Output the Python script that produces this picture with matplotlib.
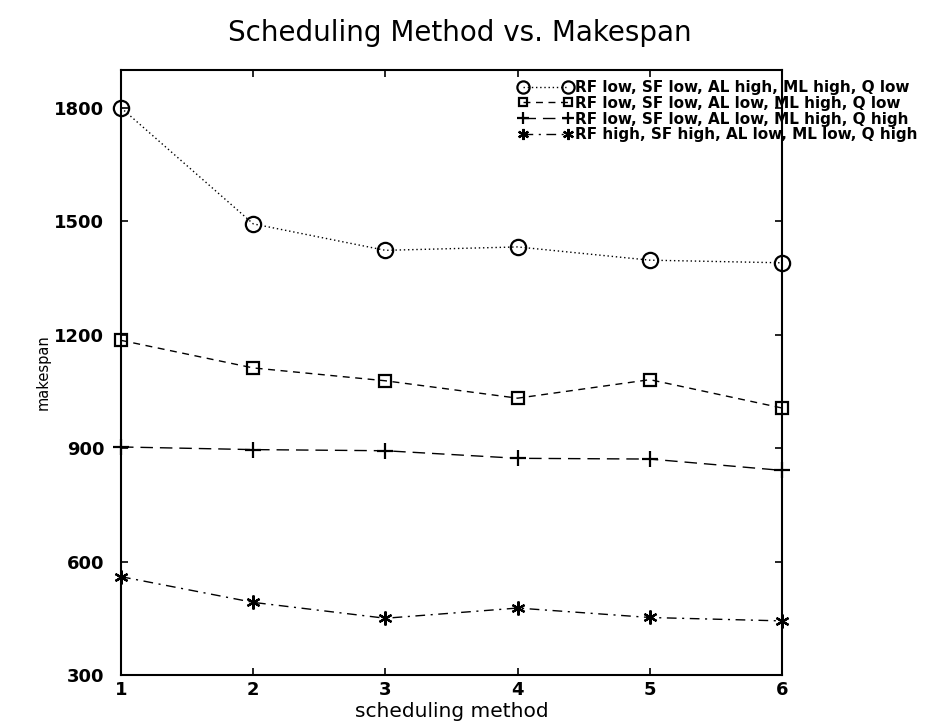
import matplotlib
matplotlib.use("Agg")
import matplotlib.pyplot as plt

plt.rcParams['font.family'] = ['DejaVu Sans']

# scheduling methods on the x axis
methods = [1, 2, 3, 4, 5, 6]

# makespan for each parameter setting
makespan_circle = [1800, 1493, 1423, 1432, 1397, 1390]
makespan_square = [1185, 1112, 1078, 1032, 1081, 1006]
makespan_plus = [903, 896, 893, 873, 871, 841]
makespan_star = [560, 492, 450, 477, 452, 443]

labels = [
    "RF low, SF low, AL high, ML high, Q low",
    "RF low, SF low, AL low, ML high, Q low",
    "RF low, SF low, AL low, ML high, Q high",
    "RF high, SF high, AL low, ML low, Q high",
]

y_ticks = [300, 600, 900, 1200, 1500, 1800]

fig = plt.figure(figsize=(9.41, 7.25), dpi=100)
ax = fig.add_axes([0.1286, 0.069, 0.7025, 0.8345])

common = dict(color="black", linewidth=1.0, clip_on=False, markerfacecolor="none",
              markeredgecolor="black", markeredgewidth=1.6)

ax.plot(methods, makespan_circle, linestyle=(0, (1, 2)), marker="o", markersize=11,
        label=labels[0], **common)
ax.plot(methods, makespan_square, linestyle=(0, (5, 4)), marker="s", markersize=8,
        label=labels[1], **common)
ax.plot(methods, makespan_plus, linestyle=(0, (9, 5)), marker="+", markersize=11,
        label=labels[2], **common)
ax.plot(methods, makespan_star, linestyle=(0, (7, 4, 1.5, 4)), marker=(6, 2, 0), markersize=10,
        label=labels[3], **common)

ax.set_xlim(1, 6)
ax.set_ylim(300, 1900)
ax.set_xticks(methods)
ax.set_yticks(y_ticks)

for side in ax.spines.values():
    side.set_linewidth(1.5)

ax.tick_params(direction="in", length=5, width=1.2, top=True, right=True)
ax.tick_params(axis="y", pad=12)
ax.tick_params(axis="x", pad=4)
for lbl in ax.get_xticklabels() + ax.get_yticklabels():
    lbl.set_fontsize(13)
    lbl.set_fontweight("bold")

ax.set_title("Scheduling Method vs. Makespan", fontsize=20, pad=21, x=0.512)
ax.set_xlabel("scheduling method", fontsize=14.5)
ax.set_ylabel("makespan", fontsize=10.5)
ax.xaxis.set_label_coords(0.5, -0.045)
ax.yaxis.set_label_coords(-0.107, 0.5)

leg = ax.legend(loc="upper left", bbox_to_anchor=(518 / 941, 1 - 80 / 725),
                bbox_transform=fig.transFigure, frameon=False, numpoints=2,
                handlelength=3.6, handletextpad=0.1, labelspacing=0.05,
                borderpad=0.0, borderaxespad=0.0, markerscale=0.8,
                prop={"size": 11, "weight": "bold"})
leg.set_clip_on(False)

fig.savefig("out.png", dpi=100)
